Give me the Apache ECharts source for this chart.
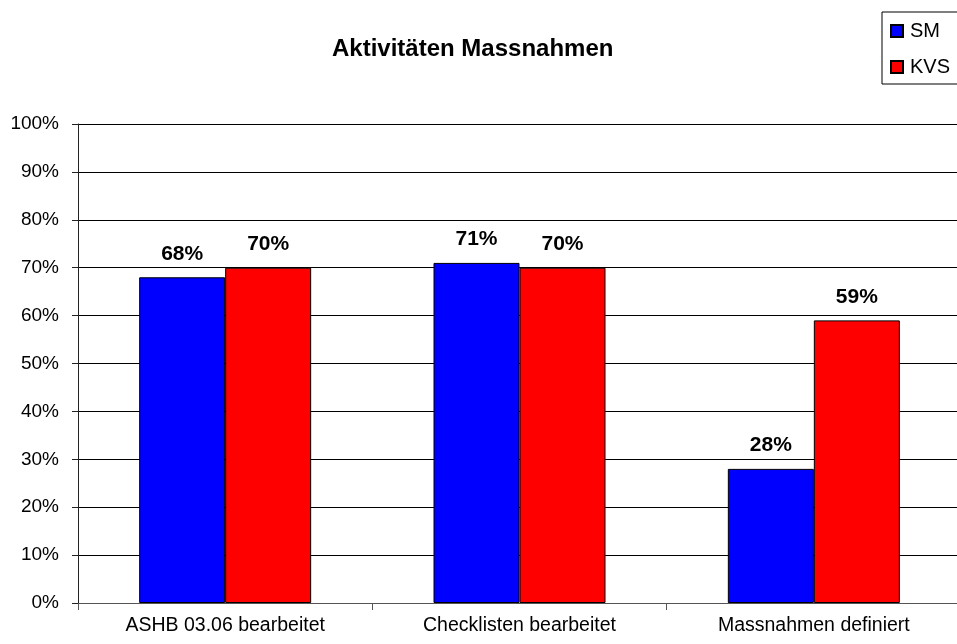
<!DOCTYPE html>
<html>
<head>
<meta charset="utf-8">
<title>Aktivitäten Massnahmen</title>
<script src="https://cdn.jsdelivr.net/npm/echarts@6/dist/echarts.min.js"></script>
<style>
  html, body { margin: 0; padding: 0; background: #fff; }
  #chart { width: 957px; height: 644px; }
</style>
</head>
<body>
<div id="chart"></div>
<script>
// Share of completed activities per area, in percent
const categories = ['ASHB 03.06 bearbeitet', 'Checklisten bearbeitet', 'Massnahmen definiert'];
const smValues = [68, 71, 28];
const kvsValues = [70, 70, 59];
const yTicks = { min: 0, max: 100, interval: 10 };

const FONT = 'Arial, "Liberation Sans", sans-serif';

const chart = echarts.init(document.getElementById('chart'), null, { renderer: 'canvas' });

const barLabel = {
  show: true,
  position: 'top',
  distance: 13,
  formatter: '{c}%',
  fontFamily: FONT,
  fontSize: 21,
  fontWeight: 'bold',
  color: '#000'
};

chart.setOption({
  animation: false,
  backgroundColor: '#fff',
  title: {
    text: 'Aktivitäten Massnahmen',
    left: 332,
    top: 37,
    padding: 0,
    textStyle: { fontFamily: FONT, fontSize: 24, fontWeight: 'bold', color: '#000', lineHeight: 24 }
  },
  legend: {
    orient: 'vertical',
    left: 882,
    top: 12,
    padding: [8, 8, 6, 8],
    itemWidth: 12,
    itemHeight: 12,
    itemGap: 14,
    icon: 'rect',
    borderColor: '#000',
    borderWidth: 1,
    textStyle: { fontFamily: FONT, fontSize: 20, color: '#000', lineHeight: 22, padding: [0, 0, 0, 2] },
    data: ['SM', 'KVS']
  },
  grid: {
    left: 78,
    right: -4,
    top: 124,
    bottom: 41,
    containLabel: false,
    outerBoundsMode: 'none'
  },
  xAxis: {
    type: 'category',
    data: categories,
    boundaryGap: true,
    axisLine: { show: true, lineStyle: { color: '#555', width: 1 } },
    axisTick: { show: true, length: 7, lineStyle: { color: '#555' } },
    axisLabel: { interval: 0, margin: 13, fontFamily: FONT, fontSize: 19.5, color: '#000' },
    splitLine: { show: false }
  },
  yAxis: {
    type: 'value',
    min: yTicks.min,
    max: yTicks.max,
    interval: yTicks.interval,
    axisLine: { show: true, lineStyle: { color: '#222', width: 1 } },
    axisTick: { show: true, length: 6, lineStyle: { color: '#222' } },
    axisLabel: { formatter: '{value}%', margin: 19, fontFamily: FONT, fontSize: 19, color: '#000' },
    splitLine: { show: true, lineStyle: { color: '#000', width: 1 } }
  },
  series: [
    {
      name: 'SM',
      type: 'bar',
      data: smValues,
      barWidth: 86,
      barGap: '0%',
      itemStyle: { color: '#0000FF', borderColor: '#000', borderWidth: 1 },
      label: barLabel
    },
    {
      name: 'KVS',
      type: 'bar',
      data: kvsValues,
      barWidth: 86,
      barGap: '0%',
      itemStyle: { color: '#FF0000', borderColor: '#000', borderWidth: 1 },
      label: barLabel
    }
  ]
});
</script>
</body>
</html>
